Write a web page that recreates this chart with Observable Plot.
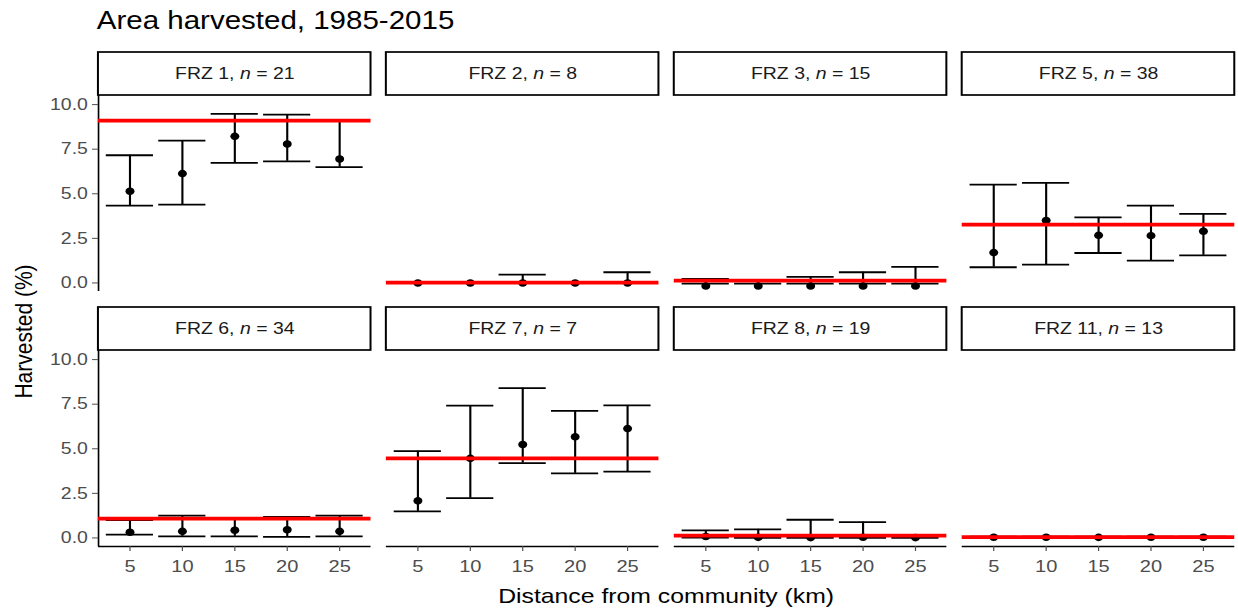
<!DOCTYPE html>
<html>
<head>
<meta charset="utf-8">
<script src="https://cdn.jsdelivr.net/npm/d3@7"></script>
<script src="https://cdn.jsdelivr.net/npm/@observablehq/plot@0.6"></script>
<style>
html, body { margin: 0; padding: 0; background: #fff; overflow: hidden; }
#wrap { position: absolute; left: 0; top: 0; width: 1049px; height: 613px;
  transform: scaleX(1.18); transform-origin: 0 0;
  font-family: "Liberation Sans", Arial, sans-serif; }
#title { position: absolute; left: 82px; top: 8px; font-size: 25px; line-height: 25px; color: #000; white-space: nowrap; }
#xtitle { position: absolute; left: 82px; width: 965px; top: 585px; text-align: center; font-size: 21px; line-height: 21px; color: #000; white-space: nowrap; }
#ytitle { position: absolute; left: -129.7px; top: 320.5px; width: 300px; text-align: center; font-size: 21px; line-height: 21px; color: #000; white-space: nowrap; transform: rotate(-90deg); transform-origin: 150px 10.5px; }
#chart { position: absolute; left: 0; top: 0; }
</style>
</head>
<body>
<div id="wrap">
  <div id="chart"></div>
  <div id="title">Area harvested, 1985-2015</div>
  <div id="ytitle">Harvested (%)</div>
  <div id="xtitle">Distance from community (km)</div>
</div>
<script>
// ---- data ----
const distances = [5, 10, 15, 20, 25];
const panelNames = ["FRZ 1", "FRZ 2", "FRZ 3", "FRZ 5", "FRZ 6", "FRZ 7", "FRZ 8", "FRZ 11"];
const sampleSizes = [21, 8, 15, 38, 34, 7, 19, 13];
const overallMean = [9.10, 0.02, 0.13, 3.27, 1.08, 4.46, 0.13, 0.05];
const meanValues = [
  [5.14, 6.13, 8.22, 7.79, 6.95],
  [0.00, 0.00, 0.00, 0.00, 0.00],
  [-0.17, -0.17, -0.17, -0.17, -0.17],
  [1.70, 3.50, 2.67, 2.65, 2.90],
  [0.32, 0.37, 0.43, 0.46, 0.37],
  [2.08, 4.46, 5.24, 5.67, 6.13],
  [0.08, 0.03, 0.02, 0.04, 0.02],
  [0.04, 0.04, 0.03, 0.04, 0.04]
];
const lowerValues = [
  [4.34, 4.39, 6.73, 6.82, 6.49],
  [0.00, 0.00, 0.00, 0.00, 0.00],
  [-0.04, -0.04, -0.04, -0.04, -0.04],
  [0.88, 1.03, 1.68, 1.25, 1.55],
  [0.19, 0.09, 0.09, 0.06, 0.09],
  [1.49, 2.23, 4.20, 3.62, 3.72],
  [0.02, 0.00, 0.00, 0.00, 0.00],
  [0.01, 0.01, 0.01, 0.01, 0.01]
];
const upperValues = [
  [7.16, 7.98, 9.48, 9.44, 9.10],
  [0.00, 0.00, 0.47, 0.00, 0.60],
  [0.22, 0.12, 0.34, 0.60, 0.90],
  [5.51, 5.61, 3.68, 4.34, 3.87],
  [1.00, 1.25, 1.05, 1.18, 1.25],
  [4.87, 7.42, 8.40, 7.12, 7.43],
  [0.42, 0.48, 1.02, 0.89, 0.10],
  [0.07, 0.07, 0.07, 0.07, 0.07]
];
const yTicks = [0, 2.5, 5, 7.5, 10];

// ---- tables built from the arrays ----
const nCols = 4;
const records = [];
panelNames.forEach((p, i) => {
  distances.forEach((d, j) => {
    records.push({panel: p, col: i % nCols, row: Math.floor(i / nCols), dist: d,
      mean: meanValues[i][j], lo: lowerValues[i][j], hi: upperValues[i][j]});
  });
});
const strips = panelNames.map((p, i) => ({panel: p, n: sampleSizes[i], col: i % nCols, row: Math.floor(i / nCols),
  label: `${p}, n = ${sampleSizes[i]}`, overall: overallMean[i]}));
const leftPanels = strips.filter(s => s.col === 0);
const bottomPanels = strips.filter(s => s.row === 1);

const xDomain = [2, 28];
const yDomain = [-0.48, 10.51];
const capHalf = 2.25;

const chart = Plot.plot({
  width: 1049,
  height: 613,
  marginLeft: 82.2,
  marginRight: 2.4,
  marginTop: 94,
  marginBottom: 66.3,
  style: {fontFamily: '"Liberation Sans", Arial, sans-serif', background: "white", overflow: "visible"},
  x: {domain: xDomain},
  y: {domain: yDomain},
  fx: {domain: [0, 1, 2, 3], paddingInner: 0.0532, paddingOuter: 0, axis: null},
  fy: {domain: [0, 1], paddingInner: 0.2316, paddingOuter: 0, axis: null},
  marks: [
    // strip boxes
    Plot.rect(strips, {fx: "col", fy: "row", x1: xDomain[0], x2: xDomain[1], y1: yDomain[1], y2: yDomain[1],
      insetTop: -43, fill: "white", stroke: "black", strokeWidth: 1.7}),
    Plot.text(strips, {fx: "col", fy: "row", text: "label", frameAnchor: "top", dy: -21.5,
      lineAnchor: "middle", fontSize: 16.5, fill: "#1a1a1a"}),
    // axis lines
    Plot.ruleX(leftPanels, {fx: "col", fy: "row", x: xDomain[0], stroke: "black", strokeWidth: 1.4}),
    Plot.ruleY(bottomPanels, {fx: "col", fy: "row", y: yDomain[0], stroke: "black", strokeWidth: 1.6}),
    Plot.axisY({ticks: yTicks, tickFormat: d => d.toFixed(1), tickSize: 5, tickPadding: 4,
      fontSize: 16.5, color: "#4d4d4d", label: null}),
    Plot.axisX({ticks: distances, tickSize: 5, tickPadding: 8, fontSize: 17, color: "#4d4d4d", label: null}),
    // error bars
    Plot.ruleX(records, {fx: "col", fy: "row", x: "dist", y1: "lo", y2: "hi", stroke: "black", strokeWidth: 1.8}),
    Plot.ruleY(records, {fx: "col", fy: "row", y: "hi", x1: d => d.dist - capHalf, x2: d => d.dist + capHalf, stroke: "black", strokeWidth: 1.8}),
    Plot.ruleY(records, {fx: "col", fy: "row", y: "lo", x1: d => d.dist - capHalf, x2: d => d.dist + capHalf, stroke: "black", strokeWidth: 1.8}),
    // means
    Plot.dot(records, {fx: "col", fy: "row", x: "dist", y: "mean", r: 3.8, fill: "black", stroke: "none"}),
    // overall mean line
    Plot.ruleY(strips, {fx: "col", fy: "row", y: "overall", stroke: "#ff0000", strokeWidth: 3.8})
  ]
});

document.getElementById("chart").appendChild(chart);

// italic "n" in strip labels
const ns = "http://www.w3.org/2000/svg";
chart.querySelectorAll("text").forEach(t => {
  const s = t.textContent;
  const m = s.match(/^(FRZ \d+, )n( = \d+)$/);
  if (!m) return;
  while (t.firstChild) t.removeChild(t.firstChild);
  const a = document.createElementNS(ns, "tspan"); a.textContent = m[1];
  const b = document.createElementNS(ns, "tspan"); b.textContent = "n"; b.setAttribute("font-style", "italic");
  const c = document.createElementNS(ns, "tspan"); c.textContent = m[2];
  t.append(a, b, c);
});
</script>
</body>
</html>
